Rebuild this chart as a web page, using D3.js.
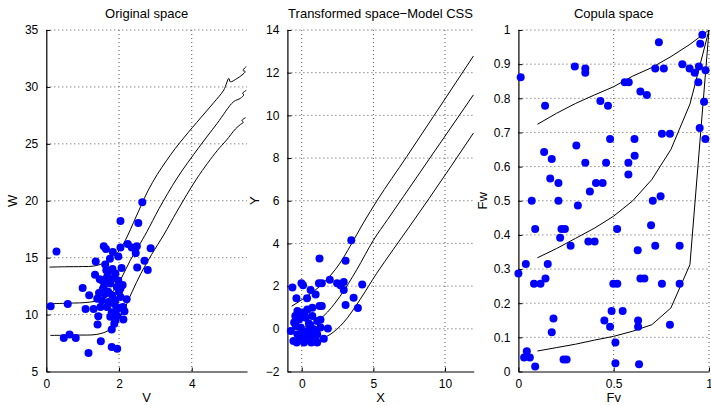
<!DOCTYPE html>
<html>
<head>
<meta charset="utf-8">
<script src="https://cdn.jsdelivr.net/npm/d3@7"></script>
<style>
  body { margin: 0; background: #fff; }
  text { font-family: "Liberation Sans", Arial, sans-serif; fill: #000; }
</style>
</head>
<body>
<div id="chart"></div>
<script>
const WIDTH = 711;
const HEIGHT = 406;
const TOP = 30;
const BOTTOM = 371.5;

// ---- panel 1: original space ----
const origV = [2.64, 2.04, 2.53, 0.28, 1.58, 1.64, 1.36, 1.83, 1.75, 1.98, 2.04, 2.24, 2.35, 2.49, 2.46, 2.87,
  2.70, 2.50, 2.79, 2.07, 1.82, 1.65, 1.34, 1.47, 1.0, 1.18, 0.12, 0.59, 1.08, 1.30, 1.43, 1.41, 1.80, 1.50,
  1.16, 1.80, 1.95, 0.48, 0.64, 0.81, 2.21, 2.12, 2.04, 1.76, 1.87, 1.80, 1.53, 1.67, 1.90, 1.76, 1.58, 1.94,
  1.62, 1.81, 2.04, 1.53, 1.71, 1.90, 2.04, 1.49, 1.67, 1.94, 2.11, 1.90, 1.95, 2.0, 1.70, 1.60, 1.85, 2.10,
  1.45, 1.72, 1.55, 1.88, 1.40, 2.15, 1.98, 1.62];
const origW = [19.87, 18.23, 18.05, 15.54, 16.0, 15.77, 14.66, 15.5, 14.9, 15.1, 15.9, 16.2, 15.9, 16.0, 15.4, 15.83,
  14.74, 14.13, 13.92, 14.1, 14.0, 13.9, 13.5, 13.1, 12.34, 11.69, 10.73, 10.93, 10.49, 10.5, 9.85, 9.12, 8.68, 7.65,
  6.62, 7.15, 7.0, 7.94, 8.26, 7.94, 11.34, 9.56, 10.6, 9.8, 9.2, 10.2, 13.01, 13.3, 13.6, 12.72, 12.43, 12.43,
  11.84, 11.7, 12.3, 11.25, 11.1, 11.25, 11.55, 10.67, 10.67, 10.5, 10.67, 9.5, 9.9, 12.0, 12.0, 12.9, 13.2, 12.6,
  11.9, 13.8, 12.2, 10.9, 11.4, 10.3, 13.0, 14.4];

const origUpperV = [0.09, 0.5, 1.0, 1.3, 1.58, 1.81, 2.0, 2.22, 2.4, 2.59, 2.8, 3.05, 3.3, 3.55, 3.8, 4.25, 4.6, 4.88,
  5.02, 5.06, 5.25, 5.38, 5.47, 5.41, 5.5];
const origUpperW = [14.17, 14.2, 14.22, 14.26, 14.53, 15.06, 15.6, 16.82, 18.1, 19.46, 20.9, 22.3, 23.5, 24.6, 25.6,
  27.3, 28.6, 29.72, 30.75, 30.45, 30.75, 31.04, 31.35, 31.45, 31.8];
const origMidV = [0.11, 0.6, 1.21, 1.58, 1.85, 2.08, 2.31, 2.52, 2.77, 3.1, 3.6, 4.2, 4.7, 5.15, 5.34, 5.43, 5.40, 5.5];
const origMidW = [10.96, 11.0, 11.1, 11.4, 12.13, 13.3, 14.77, 15.9, 17.3, 19.3, 22.0, 24.7, 26.8, 28.7, 29.0, 29.3,
  29.45, 29.7];
const origLowV = [0.11, 0.8, 1.39, 1.71, 1.94, 2.13, 2.36, 2.6, 2.9, 3.23, 3.6, 4.15, 4.7, 4.95, 5.2, 5.34, 5.42, 5.38, 5.48];
const origLowW = [8.17, 8.2, 8.26, 8.61, 9.35, 10.37, 12.0, 13.6, 15.3, 17.0, 19.1, 22.0, 24.4, 25.3, 26.3, 26.7,
  26.9, 27.05, 27.3];

// ---- panel 2: transformed space ----
const transX = [3.46, 1.24, 3.06, -0.65, -0.02, 0.09, -0.37, 0.37, 0.62, 0.97, 1.2, 1.4, 1.96, 2.47, 2.7, 2.93, 2.93,
  4.22, 3.62, 3.06, 3.92, 1.4, 1.24, 1.31, 1.82, 1.54, 1.08, 0.67, 0.16, -0.35, -0.58, -0.76, -0.41, -0.3, 0.05,
  0.39, 0.74, -0.18, 0.28, 0.74, 1.08, -0.53, -0.07, 0.39, 0.85, 1.31, -0.3, 0.16, 0.62, 1.08, -0.18, 0.39, 0.85,
  0.5, 0.2, -0.1, 0.6, 0.95, 0.1, -0.45];
const transY = [4.15, 3.30, 3.19, 1.93, 2.14, 2.04, 1.43, 1.43, 1.82, 1.61, 2.14, 2.14, 2.30, 2.13, 2.04, 2.19, 1.82,
  2.08, 1.46, 1.12, 0.98, 1.07, 1.07, 0.42, 0.01, -0.46, -0.64, -0.64, -0.64, -0.64, -0.57, -0.10, 0.14, 0.84, 0.76,
  0.91, 0.99, 0.45, 0.52, 0.60, 0.37, 0.29, 0.06, -0.10, -0.02, 0.06, -0.25, -0.33, -0.33, -0.25, -0.49, -0.49, -0.57,
  0.25, 0.65, 0.55, 0.15, -0.4, -0.2, 0.6];

const transUpperX = [-0.70, 0.35, 1.51, 2.67, 3.37, 4.30, 5.23, 7.33, 9.18, 11.98];
const transUpperY = [1.06, 1.52, 2.15, 3.08, 3.86, 4.96, 5.98, 8.07, 9.94, 12.78];
const transMidX = [-0.70, 0.35, 1.51, 2.67, 3.84, 5.0, 6.0, 7.09, 9.18, 11.98];
const transMidY = [-0.07, 0.12, 0.59, 1.52, 2.77, 4.15, 5.13, 6.19, 8.23, 10.96];
const transLowX = [-0.70, 0.81, 1.97, 2.90, 4.07, 5.23, 6.39, 7.79, 8.9, 11.98];
const transLowY = [-0.61, -0.54, -0.27, 0.28, 1.37, 2.6, 3.72, 5.05, 6.12, 9.17];

// ---- panel 3: copula space ----
const copFv = [0.012, 0.0, 0.039, 0.044, 0.03, 0.06, 0.088, 0.07, 0.088, 0.082, 0.116, 0.142, 0.154, 0.14, 0.135,
  0.175, 0.167, 0.21, 0.21, 0.219, 0.226, 0.244, 0.274, 0.184, 0.175, 0.237, 0.253, 0.296, 0.351, 0.351, 0.304,
  0.312, 0.351, 0.375, 0.407, 0.442, 0.367, 0.4, 0.43, 0.47, 0.481, 0.46, 0.518, 0.451, 0.481, 0.489, 0.498, 0.519,
  0.509, 0.509, 0.547, 0.558, 0.579, 0.609, 0.61, 0.577, 0.577, 0.626, 0.628, 0.628, 0.633, 0.64, 0.674, 0.64,
  0.661, 0.705, 0.746, 0.696, 0.718, 0.753, 0.737, 0.718, 0.763, 0.753, 0.795, 0.795, 0.846, 0.846, 0.86, 0.898,
  0.925, 0.947, 0.944, 0.951, 0.954, 0.965, 0.974, 0.981, 0.982];
const copFw = [0.862, 0.287, 0.315, 0.059, 0.041, 0.041, 0.015, 0.5, 0.417, 0.257, 0.257, 0.272, 0.315, 0.778, 0.643,
  0.622, 0.565, 0.552, 0.5, 0.392, 0.417, 0.417, 0.368, 0.155, 0.115, 0.035, 0.035, 0.893, 0.887, 0.875, 0.662,
  0.486, 0.611, 0.527, 0.552, 0.552, 0.381, 0.381, 0.792, 0.778, 0.681, 0.611, 0.417, 0.149, 0.131, 0.177, 0.257,
  0.257, 0.085, 0.024, 0.177, 0.847, 0.847, 0.681, 0.632, 0.611, 0.577, 0.355, 0.149, 0.131, 0.021, 0.82, 0.81,
  0.272, 0.272, 0.5, 0.513, 0.428, 0.368, 0.257, 0.964, 0.887, 0.887, 0.696, 0.696, 0.137, 0.368, 0.257, 0.9, 0.887,
  0.875, 0.893, 0.847, 0.713, 0.96, 0.986, 0.79, 0.681, 0.882];

const copGridFv = [0.1, 0.2, 0.3, 0.4, 0.5, 0.6, 0.7, 0.8, 0.9, 1.0];
const copUpperFw = [0.724, 0.756, 0.785, 0.81, 0.834, 0.865, 0.89, 0.922, 0.958, 1.0];
const copMidFw = [0.333, 0.36, 0.39, 0.42, 0.455, 0.5, 0.562, 0.65, 0.783, 1.0];
const copLowFw = [0.06, 0.07, 0.08, 0.092, 0.103, 0.118, 0.137, 0.186, 0.313, 1.0];

// tick labels
const origXTicks = [0, 2, 4];
const origYTicks = [5, 10, 15, 20, 25, 30, 35];
const transXTicks = [0, 5, 10];
const transYTicks = [-2, 0, 2, 4, 6, 8, 10, 12, 14];
const copXTicks = [0, 0.5, 1];
const copYTicks = [0, 0.1, 0.2, 0.3, 0.4, 0.5, 0.6, 0.7, 0.8, 0.9, 1];

const svg = d3
  .select("#chart")
  .append("svg")
  .attr("width", WIDTH)
  .attr("height", HEIGHT);

const zip = (a, b) => a.map((v, i) => [v, b[i]]);

function drawPanel(opts) {
  const x = d3.scaleLinear().domain(opts.xDomain).range([opts.left, opts.right]);
  const y = d3.scaleLinear().domain(opts.yDomain).range([BOTTOM, TOP]);
  const g = svg.append("g");

  // dotted grid
  const grid = g.append("g").attr("stroke", "#555").attr("stroke-dasharray", "1,3").attr("stroke-width", 1);
  opts.xTicks.filter(t => t !== opts.xDomain[0]).forEach(t => {
    grid.append("line").attr("x1", x(t)).attr("x2", x(t)).attr("y1", TOP).attr("y2", BOTTOM);
  });
  opts.yTicks.filter(t => t !== opts.yDomain[0]).forEach(t => {
    grid.append("line").attr("x1", opts.left).attr("x2", opts.right).attr("y1", y(t)).attr("y2", y(t));
  });

  // axes
  const xAxis = d3.axisBottom(x).tickValues(opts.xTicks).tickSizeInner(-4).tickSizeOuter(0)
    .tickPadding(8).tickFormat(opts.fmt || d3.format(""));
  const yAxis = d3.axisLeft(y).tickValues(opts.yTicks).tickSizeInner(-4).tickSizeOuter(0)
    .tickPadding(8).tickFormat(opts.fmt || d3.format(""));
  g.append("g").attr("transform", `translate(0, ${BOTTOM})`).call(xAxis);
  g.append("g").attr("transform", `translate(${opts.left}, 0)`).call(yAxis);
  g.selectAll(".domain").attr("stroke", "#000").attr("stroke-width", 1.2);
  g.selectAll(".tick line").attr("stroke", "#000");
  g.selectAll(".tick text").style("font-size", "12px").style("font-family", "Liberation Sans, Arial, sans-serif");

  // curves
  const line = d3.line().x(d => x(d[0])).y(d => y(d[1])).curve(opts.curve || d3.curveLinear);
  opts.curves.forEach(c => {
    g.append("path").attr("d", line(c)).attr("fill", "none").attr("stroke", "#000").attr("stroke-width", 1);
  });

  // points
  g.append("g")
    .selectAll("circle")
    .data(opts.points)
    .enter()
    .append("circle")
    .attr("cx", d => x(d[0]))
    .attr("cy", d => y(d[1]))
    .attr("r", 4)
    .attr("fill", "#0000ff");

  // labels
  g.append("text").attr("x", (opts.left + opts.right) / 2).attr("y", 18)
    .attr("text-anchor", "middle").style("font-size", "13px").text(opts.title);
  g.append("text").attr("x", (opts.left + opts.right) / 2).attr("y", 402)
    .attr("text-anchor", "middle").style("font-size", "13px").text(opts.xLabel);
  g.append("text")
    .attr("transform", `translate(${opts.yLabelX}, ${(TOP + BOTTOM) / 2}) rotate(-90)`)
    .attr("text-anchor", "middle").style("font-size", "13px").text(opts.yLabel);
}

drawPanel({
  left: 46.3, right: 247, xDomain: [0, 5.52], yDomain: [5, 35],
  xTicks: origXTicks, yTicks: origYTicks,
  points: zip(origV, origW),
  curves: [zip(origUpperV, origUpperW), zip(origMidV, origMidW), zip(origLowV, origLowW)],
  curve: d3.curveCatmullRom.alpha(0.5),
  title: "Original space", xLabel: "V", yLabel: "W", yLabelX: 17
});

drawPanel({
  left: 287.4, right: 473.7, xDomain: [-1, 12], yDomain: [-2, 14],
  xTicks: transXTicks, yTicks: transYTicks,
  points: zip(transX, transY),
  curves: [zip(transUpperX, transUpperY), zip(transMidX, transMidY), zip(transLowX, transLowY)],
  curve: d3.curveMonotoneX,
  title: "Transformed space\u2212Model CSS", xLabel: "X", yLabel: "Y", yLabelX: 258.5,
  fmt: d => (d < 0 ? "\u2212" + Math.abs(d) : String(d))
});

drawPanel({
  left: 518.4, right: 709, xDomain: [0, 1], yDomain: [0, 1],
  xTicks: copXTicks, yTicks: copYTicks,
  points: zip(copFv, copFw),
  curves: [zip(copGridFv, copUpperFw), zip(copGridFv, copMidFw), zip(copGridFv, copLowFw)],
  title: "Copula space", xLabel: "Fv", yLabel: "Fw", yLabelX: 487,
  fmt: d => String(d)
});
</script>
</body>
</html>
